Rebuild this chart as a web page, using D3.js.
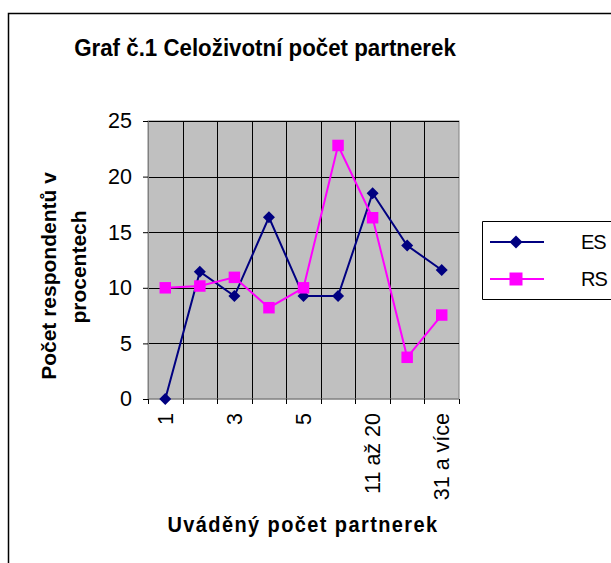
<!DOCTYPE html>
<html>
<head>
<meta charset="utf-8">
<script src="https://cdn.jsdelivr.net/npm/d3@7"></script>
<style>
  body { margin: 0; background: #fff; }
  text { font-family: "Liberation Sans", Arial, sans-serif; }
</style>
</head>
<body>
<svg id="chart" width="611" height="563"></svg>
<script>
// Data -----------------------------------------------------------
const categories = ["1", "2", "3", "4", "5", "6 až 10", "11 až 20", "21 až 30", "31 a více"];
const shownLabels = ["1", "3", "5", "11 až 20", "31 a více"];
const esValues = [0, 11.45, 9.26, 16.34, 9.26, 9.26, 18.5, 13.8, 11.6];
const rsValues = [10.0, 10.16, 10.94, 8.21, 10.0, 22.8, 16.3, 3.75, 7.55];
const yTicks = [0, 5, 10, 15, 20, 25];
const seriesNames = ["ES", "RS"];
// ------------------------------------------------------------

const svg = d3.select("#chart");

// okraj celého grafu
svg.append("path")
    .attr("d", "M8.5,563 V13.5 H611")
    .attr("fill", "none")
    .attr("stroke", "#000")
    .attr("stroke-width", 1.5);

// plocha grafu
const plot = { left: 148, right: 459, top: 121, bottom: 399 };

const x = d3.scaleBand()
    .domain(categories)
    .range([plot.left, plot.right]);

const y = d3.scaleLinear()
    .domain([0, 25])
    .range([plot.bottom, plot.top]);

svg.append("rect")
    .attr("x", plot.left)
    .attr("y", plot.top)
    .attr("width", plot.right - plot.left)
    .attr("height", plot.bottom - plot.top)
    .attr("fill", "#c0c0c0")
    .attr("stroke", "#808080")
    .attr("stroke-width", 1);

// vodorovné mřížky
svg.append("g")
    .selectAll("line")
    .data(yTicks.filter(d => d > 0))
    .join("line")
    .attr("x1", plot.left)
    .attr("x2", plot.right)
    .attr("y1", d => Math.round(y(d)) + 0.5)
    .attr("y2", d => Math.round(y(d)) + 0.5)
    .attr("stroke", "#000")
    .attr("stroke-width", 1);

// svislé mřížky mezi kategoriemi
svg.append("g")
    .selectAll("line")
    .data(categories.slice(1))
    .join("line")
    .attr("x1", d => Math.round(x(d)) + 0.5)
    .attr("x2", d => Math.round(x(d)) + 0.5)
    .attr("y1", plot.top)
    .attr("y2", plot.bottom)
    .attr("stroke", "#000")
    .attr("stroke-width", 1);

// osa Y
const yAxis = svg.append("g")
    .attr("transform", `translate(${plot.left},0)`)
    .call(d3.axisLeft(y).tickValues(yTicks).tickSize(5).tickPadding(11));
yAxis.select(".domain").attr("stroke", "#808080");
yAxis.selectAll(".tick line").attr("stroke", "#000");
yAxis.selectAll(".tick text")
    .attr("font-size", 21.5)
    .attr("fill", "#000")
    .style("font-family", "Liberation Sans, Arial, sans-serif");

// osa X - značky na hranicích kategorií
const xAxis = svg.append("g")
    .attr("transform", `translate(0,${plot.bottom})`);
xAxis.append("line")
    .attr("x1", plot.left).attr("x2", plot.right)
    .attr("stroke", "#808080");
xAxis.selectAll("line.tk")
    .data(categories.concat(["end"]))
    .join("line")
    .attr("class", "tk")
    .attr("x1", (d, i) => Math.round(plot.left + i * x.bandwidth()) + 0.5)
    .attr("x2", (d, i) => Math.round(plot.left + i * x.bandwidth()) + 0.5)
    .attr("y1", 0).attr("y2", 5)
    .attr("stroke", "#000");
xAxis.selectAll("text")
    .data(shownLabels)
    .join("text")
    .attr("transform", d => `translate(${x(d) + x.bandwidth() / 2 + 7.5},14) rotate(-90)`)
    .attr("text-anchor", "end")
    .attr("font-size", 21.5)
    .attr("fill", "#000")
    .text(d => d);

// názvy (v originále trochu natažené na výšku)
svg.append("text")
    .attr("transform", "translate(265,56) scale(1,1.1)")
    .attr("text-anchor", "middle")
    .attr("font-size", 22.3)
    .attr("font-weight", "bold")
    .text("Graf č.1 Celoživotní počet partnerek");

svg.append("text")
    .attr("transform", "translate(303,532) scale(1,1.1)")
    .attr("text-anchor", "middle")
    .attr("font-size", 20)
    .attr("font-weight", "bold")
    .attr("letter-spacing", 1.4)
    .text("Uváděný počet partnerek");

svg.append("text")
    .attr("transform", "translate(56,276) rotate(-90)")
    .attr("text-anchor", "middle")
    .attr("font-size", 21)
    .attr("font-weight", "bold")
    .text("Počet respondentů v");
svg.append("text")
    .attr("transform", "translate(86,267) rotate(-90)")
    .attr("text-anchor", "middle")
    .attr("font-size", 21)
    .attr("font-weight", "bold")
    .text("procentech");

// značky - kosočtverec jako v Excelu (stejná šířka i výška)
const squareDiamond = {
    draw(ctx, size) {
        const r = Math.sqrt(size / 2);
        ctx.moveTo(0, -r);
        ctx.lineTo(r, 0);
        ctx.lineTo(0, r);
        ctx.lineTo(-r, 0);
        ctx.closePath();
    }
};

// řady
const cx = d => x(d) + x.bandwidth() / 2;
const series = [
    { name: seriesNames[0], values: esValues, color: "#000080", symbol: squareDiamond, size: 72, legendSize: 84 },
    { name: seriesNames[1], values: rsValues, color: "#ff00ff", symbol: d3.symbolSquare, size: 132, legendSize: 169 }
];

const line = d3.line()
    .x(d => cx(d.cat))
    .y(d => y(d.v));

series.forEach(s => {
    const pts = categories.map((c, i) => ({ cat: c, v: s.values[i] }));
    svg.append("path")
        .datum(pts)
        .attr("d", line)
        .attr("fill", "none")
        .attr("stroke", s.color)
        .attr("stroke-width", 2);
    svg.append("g")
        .selectAll("path")
        .data(pts)
        .join("path")
        .attr("transform", d => `translate(${cx(d.cat)},${y(d.v)})`)
        .attr("d", d3.symbol().type(s.symbol).size(s.size))
        .attr("fill", s.color);
});

// legenda
const legend = svg.append("g");
legend.append("path")
    .attr("d", "M611,221.5 H482.5 V299.5 H611")
    .attr("fill", "none")
    .attr("stroke", "#000")
    .attr("stroke-width", 1);

series.forEach((s, i) => {
    const ly = 242 + i * 37;
    legend.append("line")
        .attr("x1", 490).attr("x2", 544)
        .attr("y1", ly).attr("y2", ly)
        .attr("stroke", s.color)
        .attr("stroke-width", 2);
    legend.append("path")
        .attr("transform", `translate(516,${ly})`)
        .attr("d", d3.symbol().type(s.symbol).size(s.legendSize))
        .attr("fill", s.color);
    legend.append("text")
        .attr("x", 581).attr("y", ly + 7)
        .attr("font-size", 20)
        .attr("letter-spacing", -1)
        .text(s.name);
});
</script>
</body>
</html>
